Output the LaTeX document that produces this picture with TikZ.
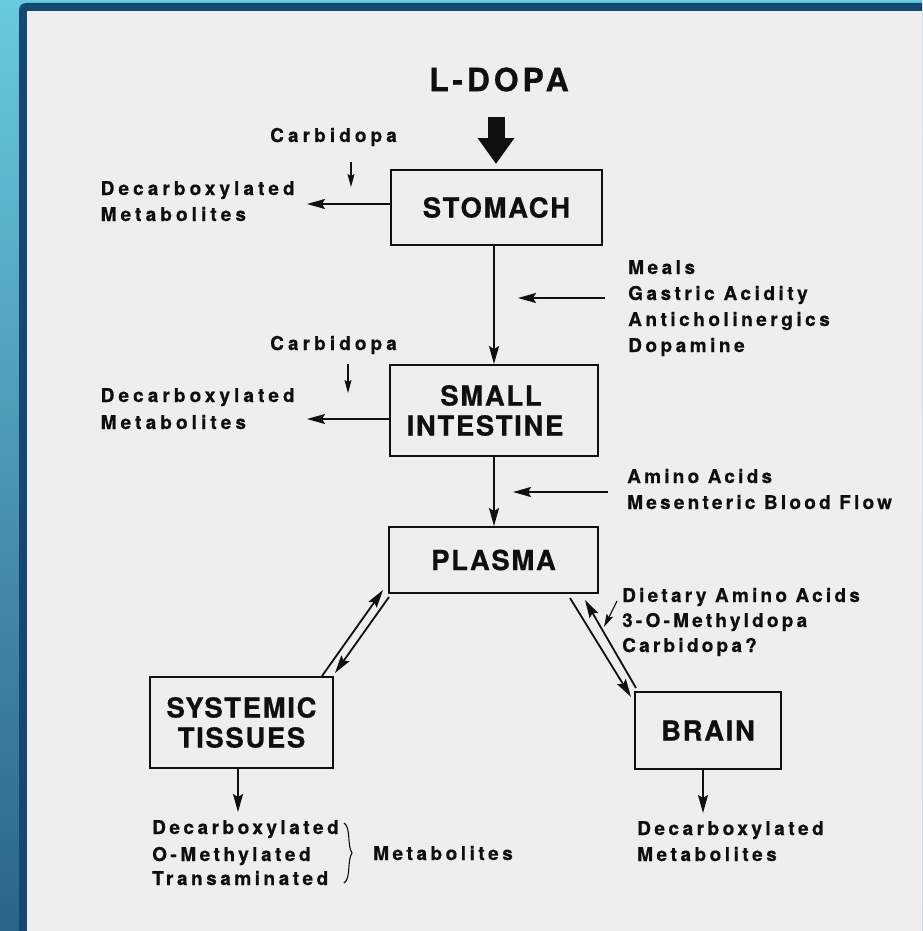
\documentclass[tikz,border=0pt]{standalone}
\usepackage{fontspec}
\setmainfont{TeX Gyre Heros}
\newfontfamily\trkA[LetterSpace=21.5,FakeBold=0.6]{TeX Gyre Heros}
\newfontfamily\trkB[LetterSpace=18.5,FakeBold=0.6]{TeX Gyre Heros}
\newfontfamily\trkC[LetterSpace=17,FakeBold=0.6]{TeX Gyre Heros}
\newfontfamily\boxf[LetterSpace=6,FakeBold=0.6]{TeX Gyre Heros}
\newfontfamily\titlef[LetterSpace=12,FakeBold=0.6]{TeX Gyre Heros}
\usetikzlibrary{arrows.meta,calc}
\definecolor{outerA}{RGB}{104,202,221}
\definecolor{outerB}{RGB}{44,100,136}
\definecolor{frameblue}{RGB}{22,72,115}
\definecolor{paper}{RGB}{238,238,238}
\definecolor{ink}{RGB}{15,15,15}
\tikzset{
  box/.style={draw=ink, line width=1.9pt, inner sep=0pt, align=center,
    text=ink, font=\boxf\bfseries\fontsize{27.5}{30}\selectfont},
  conn/.style={draw=ink, line width=1.8pt, -{Stealth[length=18pt,width=10pt,inset=3pt]}},
  thinarrow/.style={draw=ink, line width=1.1pt, -{Stealth[length=13pt,width=7pt,inset=2pt]}},
  labA/.style={inner sep=0pt, anchor=base west, text=ink, font=\trkA\bfseries\fontsize{19}{22}\selectfont},
  labB/.style={inner sep=0pt, anchor=base west, text=ink, font=\trkB\bfseries\fontsize{19}{22}\selectfont},
  labC/.style={inner sep=0pt, anchor=base west, text=ink, font=\trkC\bfseries\fontsize{19}{22}\selectfont},
}
\begin{document}
\begin{tikzpicture}[x=1pt,y=-1pt]
\useasboundingbox (0,0) rectangle (922,931);
\begin{scope}
\clip (0,0) rectangle (922,931);
\shade[top color=outerA, bottom color=outerB] (0,0) rectangle (922,931);
\fill[frameblue, rounded corners=7pt] (19,3) rectangle (960,970);
\fill[paper] (27,11) rectangle (922,931);
\end{scope}

% title and thick arrow
\node[inner sep=0pt, text=ink, font=\titlef\bfseries\fontsize{32}{36}\selectfont] (title) at (499,79.5) {L-DOPA};
\coordinate (ldA) at (496,117);
\coordinate (ldB) at (496,164);
\draw[ink, line width=17pt, -{Triangle[length=26pt,width=35pt]}] (ldA) -- (ldB);

% boxes
\node[box, minimum width=211, minimum height=75] (stomach) at (496.5,207.5) {STOMACH};
\node[box, minimum width=208, minimum height=91] (si) at (494,410.5) {\hspace*{-6pt}SMALL\\\hspace*{-18pt}INTESTINE};
\node[box, minimum width=209, minimum height=66] (plasma) at (493.5,560) {PLASMA};
\node[box, minimum width=183, minimum height=91] (sys) at (241.5,722.5) {SYSTEMIC\\TISSUES};
\node[box, minimum width=146, minimum height=77] (brain) at (708,730.5) {BRAIN};

% stomach side
\node[labA] (carb1) at (270,142) {Carbidopa};
\coordinate (cb1a) at (351,162);
\coordinate (cb1b) at (351,187);
\draw[thinarrow] (cb1a) -- (cb1b);
\node[labA] (dm1a) at (100.5,195) {Decarboxylated};
\node[labA] (dm1b) at (100.5,221) {Metabolites};
\coordinate (dm1end) at (307,204);
\draw[conn] (dm1end -| stomach.west) -- (dm1end);

% stomach -> small intestine
\draw[conn] (stomach.south -| si.north) -- (si.north);
\node[labB] (meal1) at (628,274) {Meals};
\node[labB] (meal2) at (628,300) {Gastric Acidity};
\node[labB] (meal3) at (628,326) {Anticholinergics};
\node[labB] (meal4) at (628,352) {Dopamine};
\coordinate (mealA) at (605,298);
\coordinate (mealB) at (518,298);
\draw[conn] (mealA) -- (mealB);

% small intestine side
\node[labA] (carb2) at (270,350) {Carbidopa};
\coordinate (cb2a) at (348,364);
\coordinate (cb2b) at (348,393);
\draw[thinarrow] (cb2a) -- (cb2b);
\node[labA] (dm2a) at (100.5,402) {Decarboxylated};
\node[labA] (dm2b) at (100.5,429) {Metabolites};
\coordinate (dm2end) at (307,419);
\draw[conn] (dm2end -| si.west) -- (dm2end);

% small intestine -> plasma
\draw[conn] (si.south) -- (si.south |- plasma.north);
\node[labC] (amino1) at (627,483) {Amino Acids};
\node[labC] (amino2) at (627,509) {Mesenteric Blood Flow};
\coordinate (aminoA) at (608,492);
\coordinate (aminoB) at (513,492);
\draw[conn] (aminoA) -- (aminoB);

% plasma <-> systemic tissues
\coordinate (ps1a) at (322,676);
\coordinate (ps1b) at (383,590);
\coordinate (ps2a) at (389,597);
\coordinate (ps2b) at (335,673);
\draw[conn] (ps1a) -- (ps1b);
\draw[conn] (ps2a) -- (ps2b);

% plasma <-> brain
\coordinate (pb1a) at (570,598);
\coordinate (pb1b) at (631,697);
\coordinate (pb2a) at (636,688);
\coordinate (pb2b) at (585,600);
\draw[conn] (pb1a) -- (pb1b);
\draw[conn] (pb2a) -- (pb2b);
\coordinate (dietA) at (617,601);
\coordinate (dietB) at (604,627);
\draw[thinarrow] (dietA) -- (dietB);
\node[labC] (diet1) at (622,602) {Dietary Amino Acids};
\node[labC] (diet2) at (622,627) {3-O-Methyldopa};
\node[labC] (diet3) at (622,652) {Carbidopa?};

% systemic tissues outputs
\coordinate (sysend) at (238,812);
\draw[conn] (sysend |- sys.south) -- (sysend);
\node[labB] (st1) at (152,834) {Decarboxylated};
\node[labB] (st2) at (152,861) {O-Methylated};
\node[labB] (st3) at (152,885) {Transaminated};
\draw[ink, line width=1.1pt] (344,823) .. controls (351,827) and (347,846) .. (352,853)
  .. controls (347,860) and (351,879) .. (344,883);
\node[labB] (stm) at (373,860) {Metabolites};

% brain outputs
\coordinate (brend) at (703,813);
\draw[conn] (brend |- brain.south) -- (brend);
\node[labB] (br1) at (637,835) {Decarboxylated};
\node[labB] (br2) at (637,861) {Metabolites};
\end{tikzpicture}
\end{document}
